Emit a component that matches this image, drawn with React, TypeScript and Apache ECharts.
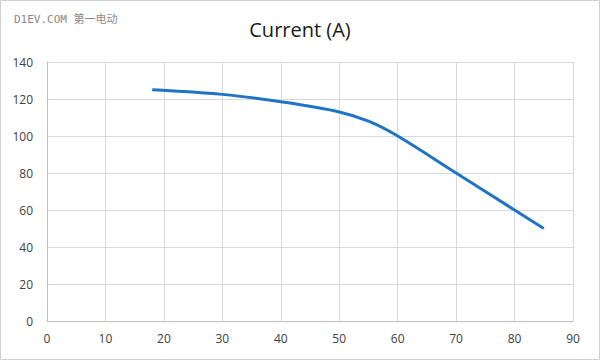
import React, { useEffect, useRef } from "react";
import * as echarts from "echarts";

const xValues = [18, 30, 40, 50, 55, 60, 70, 80, 85];
const currentValues = [125, 122.5, 118.5, 113, 108, 100, 80, 60, 50];
const title = "Current (A)";
const watermark = "D1EV.COM 第一电动";

export default function App() {
  const ref = useRef<HTMLDivElement>(null);
  useEffect(() => {
    if (!ref.current) return;
    const chart = echarts.init(ref.current, null, { renderer: "svg" });
    chart.setOption({
      animation: false,
      backgroundColor: "#ffffff",
      title: {
        text: title,
        left: "center",
        top: 14,
        textStyle: { fontSize: 20, fontWeight: "normal", color: "#1a1a1a", fontFamily: "Open Sans, Noto Sans, sans-serif" },
      },
      graphic: [
        {
          type: "rect",
          shape: { x: 0.5, y: 0.5, width: 599, height: 359 },
          style: { fill: "none", stroke: "#d0d0d0", lineWidth: 1 },
          silent: true,
        },
        {
          type: "text",
          left: 14,
          top: 14,
          style: { text: watermark, fill: "#8a8a8a", fontSize: 11, fontFamily: "DejaVu Sans Mono, Noto Sans CJK SC, monospace" },
        },
      ],
      grid: { left: 47, right: 27, top: 62, bottom: 39, containLabel: false },
      xAxis: {
        type: "value",
        min: 0,
        max: 90,
        interval: 10,
        axisLine: { show: true, lineStyle: { color: "#bfbfbf" } },
        axisTick: { show: false },
        axisLabel: { color: "#404040", fontSize: 12, margin: 11, fontFamily: "Open Sans, sans-serif" },
        splitLine: { show: true, lineStyle: { color: "#d9d9d9" } },
      },
      yAxis: {
        type: "value",
        min: 0,
        max: 140,
        interval: 20,
        axisLine: { show: true, lineStyle: { color: "#bfbfbf" } },
        axisTick: { show: false },
        axisLabel: { color: "#404040", fontSize: 12, margin: 14, fontFamily: "Open Sans, sans-serif" },
        splitLine: { show: true, lineStyle: { color: "#d9d9d9" } },
      },
      series: [
        {
          type: "line",
          data: xValues.map((x, i) => [x, currentValues[i]]),
          smooth: 0.35,
          showSymbol: false,
          lineStyle: { color: "#1f74c4", width: 3 },
        },
      ],
    });
    return () => chart.dispose();
  }, []);
  return <div ref={ref} style={{ position: "absolute", left: 0, top: 0, width: 600, height: 360 }} />;
}
